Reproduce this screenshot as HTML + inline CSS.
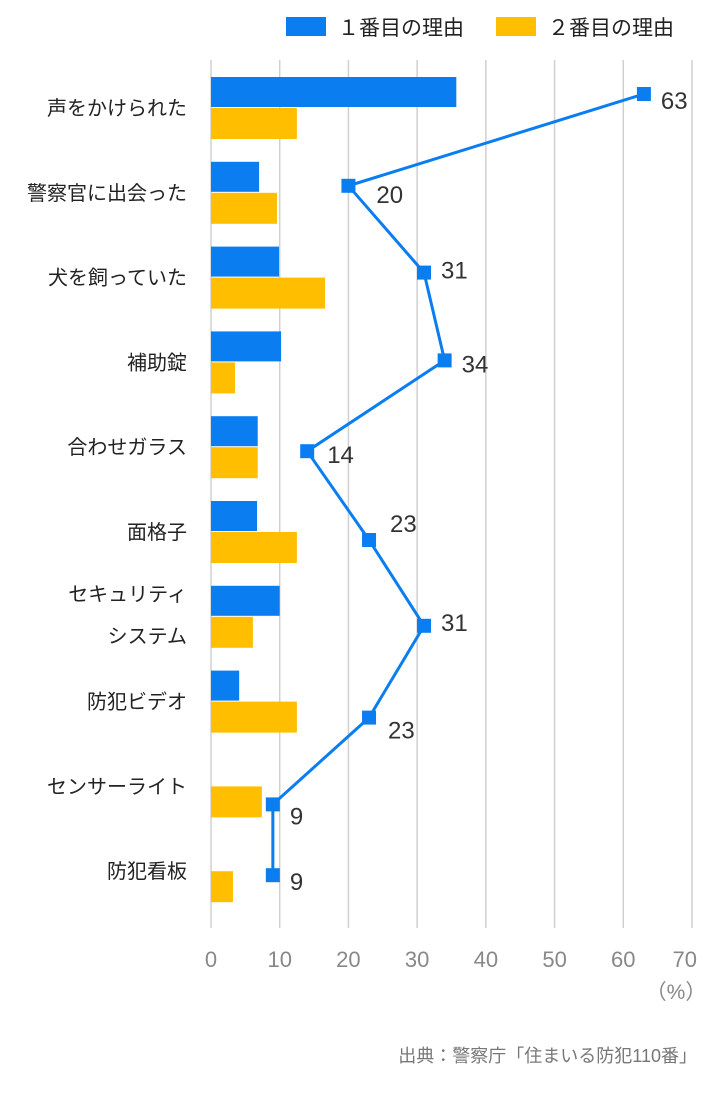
<!DOCTYPE html>
<html><head><meta charset="utf-8"><style>
body{margin:0;background:#fff;font-family:"Liberation Sans","Noto Sans CJK JP",sans-serif;}
svg{display:block}
</style></head><body>
<svg id="chart" width="701" height="1100" font-family="Liberation Sans, Noto Sans CJK JP, sans-serif"></svg>
<script>
const categories=["声をかけられた","警察官に出会った","犬を飼っていた","補助錠","合わせガラス","面格子","セキュリティ|システム","防犯ビデオ","センサーライト","防犯看板"];
const firstReason=[35.7,7.0,9.9,10.2,6.8,6.7,10.0,4.1,0,0];
const secondReason=[12.5,9.6,16.6,3.5,6.8,12.5,6.1,12.5,7.4,3.2];
const lineValues=[63,20,31,34,14,23,31,23,9,9];
const xTicks=[0,10,20,30,40,50,60,70];
// layout only (pixel offsets)
const labelOffsets=[[17,7],[28,9],[17,-2],[17,4],[20,4],[21,-16],[17,-3],[19,13],[17,12],[17,7]];
const pointShift=[-13,-6,-4,-1,5,9,10,17,19,5];
const NS="http://www.w3.org/2000/svg";
const svg=document.getElementById('chart');
const x0=211,xPer=481/70;
const X=v=>x0+v*xPer;
const rowTop=i=>77+i*84.8;
const pointY=i=>rowTop(i)+30+pointShift[i];
function mk(t,a,p){const e=document.createElementNS(NS,t);for(const k in a)e.setAttribute(k,a[k]);(p||svg).appendChild(e);return e;}
xTicks.forEach((t,k)=>{
 const g=mk('line',{x1:X(t),x2:X(t),y1:60,y2:928,stroke:'#d0d0d0','stroke-width':1.5});
 
 
 const last=k===xTicks.length-1;
 const tx=mk('text',{x:last?697:X(t),y:967,'text-anchor':last?'end':'middle','font-size':22,fill:'#888'});
 tx.textContent=t;
 
 
});
const unit=mk('text',{x:676,y:999,'text-anchor':'middle','font-size':21,fill:'#888'});unit.textContent='（%）';


categories.forEach((c,i)=>{
 const y=rowTop(i);
 if(firstReason[i]>0){const b=mk('rect',{x:x0,y:y,width:X(firstReason[i])-x0,height:30,fill:'#0a7ef0'});
 
 }
 const b2=mk('rect',{x:x0,y:y+31,width:X(secondReason[i])-x0,height:31,fill:'#ffbf00'});
 
 
 const parts=c.split('|');
 parts.forEach((p,k)=>{
  const t=mk('text',{x:187,y:y+38+(parts.length>1?(k-0.5)*42-2:0),'text-anchor':'end','font-size':20,fill:'#222'});
  t.textContent=p;
  
  
 });
});
const pts=lineValues.map((v,i)=>X(v)+','+pointY(i)).join(' ');
const pl=mk('polyline',{points:pts,fill:'none',stroke:'#0a7ef0','stroke-width':3});


lineValues.forEach((v,i)=>{
 const m=mk('rect',{x:X(v)-7,y:pointY(i)-7,width:14,height:14,fill:'#0a7ef0'});
 
 
 const t=mk('text',{x:X(v)+labelOffsets[i][0],y:pointY(i)+labelOffsets[i][1]+8,'font-size':24,fill:'#333'});
 t.textContent=v;
 
 
});
const l1=mk('rect',{x:286,y:17,width:40,height:19,fill:'#0a7ef0'});


const lt1=mk('text',{x:338,y:35,'font-size':21,fill:'#222'});lt1.textContent='１番目の理由';


const l2=mk('rect',{x:496,y:17,width:40,height:19,fill:'#ffbf00'});


const lt2=mk('text',{x:548,y:35,'font-size':21,fill:'#222'});lt2.textContent='２番目の理由';


const src=mk('text',{x:697,y:1062,'text-anchor':'end','font-size':18,fill:'#777'});src.textContent='出典：警察庁「住まいる防犯110番」';


</script>
</body></html>
